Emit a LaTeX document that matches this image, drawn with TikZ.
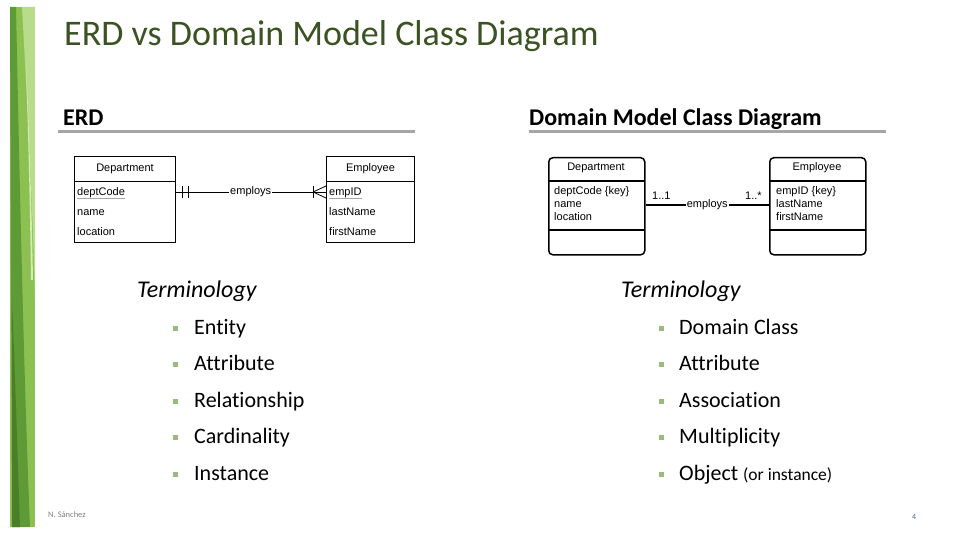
\documentclass[tikz,border=0pt]{standalone}
\usepackage{fontspec}
\setmainfont{Carlito}[Ligatures=NoCommon]
\newfontfamily\arialf{Liberation Sans}
\usetikzlibrary{calc,positioning}
\definecolor{titlegreen}{HTML}{3B5323}
\definecolor{bulletgreen}{HTML}{9BBB7E}
\definecolor{rulegray}{HTML}{A6A6A6}
\definecolor{pagenum}{HTML}{4F6A9A}
\definecolor{g1}{HTML}{8CC152}
\definecolor{g2}{HTML}{5E9A35}
\definecolor{g3}{HTML}{B9DC8C}
\definecolor{g4}{HTML}{4A7F2A}
\newcommand{\grayul}[1]{{\color{gray!70}\underline{\textcolor{black}{#1}}}}
\tikzset{
  title/.style={anchor=base west, font=\fontsize{36}{40}\selectfont, text=titlegreen, inner sep=0},
  subhead/.style={anchor=base west, font=\bfseries\fontsize{24}{28}\selectfont, inner sep=0},
  subrule/.style={draw=rulegray, line width=3pt},
  term/.style={anchor=base west, font=\itshape\fontsize{24}{28}\selectfont, inner sep=0},
  item/.style={anchor=base west, font=\fontsize{22}{26}\selectfont, inner sep=0},
  bul/.style={fill=bulletgreen, minimum size=5pt, inner sep=0},
  erhead/.style={draw, line width=1pt, minimum height=25pt, inner sep=0, font=\arialf\fontsize{11}{13}\selectfont},
  errow/.style={minimum height=20pt, inner sep=3pt, text width=#1, text height=8pt, text depth=2pt, align=left, font=\arialf\fontsize{11}{13}\selectfont, anchor=west},
  erbody/.style={draw, line width=1pt, inner sep=0},
  dmbox/.style={draw, line width=1.5pt, rounded corners=4pt, inner sep=0},
  dmtxt/.style={font=\arialf\fontsize{11}{13}\selectfont},
  conn/.style={line width=1.1pt},
  lbl/.style={fill=white, inner sep=1pt, font=\arialf\fontsize{11}{13}\selectfont},
}
\begin{document}
\begin{tikzpicture}[x=1pt,y=-1pt]
\useasboundingbox (0,0) rectangle (960,540);
\fill[white] (0,0) rectangle (960,540);
% green side bar
\fill[g1] (10,7) rectangle (35,527);
\fill[g3] (22,7) .. controls (30,150) and (34,250) .. (35,300) -- (35,7) -- cycle;
\fill[g2] (10,7) -- (16,7) .. controls (20,200) and (24,380) .. (30,527) -- (12,527) -- cycle;
\fill[g4] (12,300) .. controls (16,400) and (18,470) .. (20,527) -- (12,527) -- cycle;
\fill[g3!60!white] (26,60) .. controls (30,150) and (32,220) .. (33,280) -- (31,280) .. controls (30,200) and (28,130) .. (26,60) -- cycle;
% title
\node[title] (ttl) at (64,46) {ERD vs Domain Model Class Diagram};
% sub headings
\node[subhead] (hE) at (63,126) {ERD};
\node[subhead] (hD) at (529,126) {Domain Model Class Diagram};
\draw[subrule] (58,132) -- (415,132);
\draw[subrule] (529,132) -- (886,132);
% ERD diagram
\node[erhead, minimum width=101pt, anchor=north west] (deph) at (74,156) {Department};
\node[erbody, minimum width=101pt, minimum height=61pt, anchor=north west] (depb) at (74,181) {};
\node[errow=95pt] (dcode) at (74,192) {\grayul{deptCode}};
\node[errow=95pt] (dname) at (74,212) {name};
\node[errow=95pt] (dloc) at (74,232) {location};
\node[erhead, minimum width=88pt, anchor=north west] (emph) at (326,156) {Employee};
\node[erbody, minimum width=88pt, minimum height=61pt, anchor=north west] (empb) at (326,181) {};
\node[errow=82pt] (eid) at (326,192) {\grayul{empID}};
\node[errow=82pt] (elast) at (326,212) {lastName};
\node[errow=82pt] (efirst) at (326,232) {firstName};
\draw[line width=0.8pt] (dcode.east) -- node[lbl] (rel) {employs} (eid.west);
\draw[line width=0.8pt] ($(dcode.east)+(7,-6)$) -- ($(dcode.east)+(7,6)$);
\draw[line width=0.8pt] ($(dcode.east)+(13,-6)$) -- ($(dcode.east)+(13,6)$);
\draw[line width=0.8pt] ($(eid.west)+(-13,-6)$) -- ($(eid.west)+(-13,6)$);
\draw[line width=0.8pt] ($(eid.west)+(-13,0)$) -- ($(eid.west)+(0,-6)$);
\draw[line width=0.8pt] ($(eid.west)+(-13,0)$) -- ($(eid.west)+(0,6)$);
% Domain model diagram
\node[dmbox, minimum width=96pt, minimum height=97pt, anchor=north west] (dcls) at (548,157) {};
\draw[line width=1.2pt] (548,181) -- (644,181);
\draw[line width=1.2pt] (548,230) -- (644,230);
\node[dmtxt, anchor=center] (dclsn) at (596,168) {Department};
\node[dmtxt, anchor=north west, align=left, inner sep=0, font=\arialf\fontsize{11}{13}\selectfont] (dattr) at (554,186) {deptCode \{key\}\\name\\location};
\node[dmbox, minimum width=96pt, minimum height=97pt, anchor=north west] (ecls) at (769,157) {};
\draw[line width=1.2pt] (769,181) -- (865,181);
\draw[line width=1.2pt] (769,230) -- (865,230);
\node[dmtxt, anchor=center] (eclsn) at (817,168) {Employee};
\node[dmtxt, anchor=north west, align=left, inner sep=0, font=\arialf\fontsize{11}{13}\selectfont] (eattr) at (776,186) {empID \{key\}\\lastName\\firstName};
\coordinate (dcon) at (644,205);
\coordinate (econ) at (769,205);
\draw[conn] (dcls.east |- dcon) -- node[lbl] (assoc) {employs} (ecls.west |- econ);
\node[dmtxt, anchor=base west, inner sep=0] (m1) at (652,200) {1..1};
\node[dmtxt, anchor=base west, inner sep=0] (m2) at (745,200) {1..*};
% Terminology left
\node[term] (tl) at (137,297) {Terminology};
\foreach \t [count=\i] in {Entity,Attribute,Relationship,Cardinality,Instance} {
  \pgfmathsetmacro{\yy}{334+(\i-1)*36.5}
  \node[bul] (bl\i) at (175,\yy-6) {};
  \node[item] (il\i) at (194,\yy) {\t};
}
% Terminology right
\node[term] (tr) at (621,297) {Terminology};
\foreach \t [count=\i] in {Domain Class,Attribute,Association,Multiplicity} {
  \pgfmathsetmacro{\yy}{334+(\i-1)*36.5}
  \node[bul] (br\i) at (661,\yy-6) {};
  \node[item] (ir\i) at (679,\yy) {\t};
}
\node[bul] (br5) at (661,474) {};
\node[item] (ir5) at (679,480) {Object {\fontsize{17.5}{20}\selectfont (or instance)}};
% footer
\node[anchor=base west, inner sep=0, font=\fontsize{8.5}{10}\selectfont, text=gray] (auth) at (48,517) {N. Sánchez};
\node[anchor=base west, inner sep=0, font=\fontsize{8}{9}\selectfont, text=pagenum] (pg) at (912,519) {4};
\end{tikzpicture}
\end{document}
